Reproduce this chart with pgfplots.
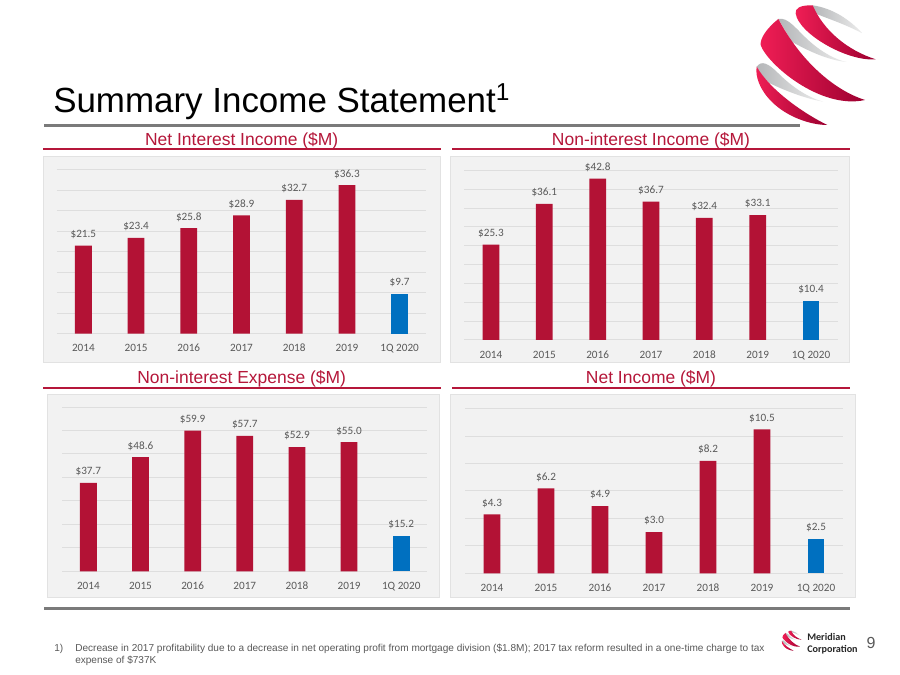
\documentclass[border=0pt]{standalone}
\usepackage{fontspec}
\setmainfont{Liberation Sans}
\newfontfamily\calib{Carlito}
\usepackage{pgfplots}
\pgfplotsset{compat=1.18}
\definecolor{barred}{HTML}{B31235}
\definecolor{barblue}{HTML}{0070C0}
\definecolor{headred}{HTML}{B5173A}
\definecolor{txt}{HTML}{595959}
\definecolor{gridc}{HTML}{DEDEDE}
\definecolor{panelbg}{HTML}{F2F2F2}
\definecolor{panelbd}{HTML}{E2E2E2}
\definecolor{rulegray}{HTML}{7A7A7A}
\definecolor{logoa}{HTML}{F01E55}
\definecolor{logob}{HTML}{9C0030}
\definecolor{logoc}{HTML}{B4B6B8}
\definecolor{logod}{HTML}{EDEDED}
\newcommand{\fs}[1]{\fontsize{#1}{#1}\selectfont}
\newcommand{\logo}{%
 \shade[left color=logoc,right color=logod] (338,16) .. controls (400,25) and (450,60) .. (487,100) .. controls (430,70) and (380,55) .. (345,40) -- cycle;
 \shade[left color=logoa,right color=logob] (338,16) .. controls (300,15) and (285,25) .. (287,40) .. controls (295,100) and (440,185) .. (527,178) .. controls (440,150) and (370,90) .. (338,16) -- cycle;
 \shade[left color=logoc,right color=logod] (235,57) .. controls (265,50) and (290,90) .. (330,125) .. controls (370,160) and (410,180) .. (440,186) .. controls (380,180) and (320,150) .. (275,125) -- cycle;
 \shade[left color=logoa,right color=logob] (235,57) .. controls (200,85) and (180,115) .. (182,135) .. controls (200,190) and (360,330) .. (495,300) .. controls (400,270) and (300,180) .. (235,57) -- cycle;
 \shade[left color=logoc,right color=logod] (170,200) .. controls (185,180) and (205,190) .. (235,220) .. controls (280,265) and (330,295) .. (370,305) .. controls (310,295) and (240,265) .. (210,250) .. controls (190,235) and (175,215) .. (170,200) -- cycle;
 \shade[left color=logoa,right color=logob] (170,200) .. controls (165,230) and (180,270) .. (215,305) .. controls (260,350) and (330,375) .. (382,375) .. controls (310,340) and (210,270) .. (170,200) -- cycle;
}
\pgfplotsset{panel/.style={
  scale only axis, anchor=south west, clip=false,
  axis line style={draw=none},
  ymin=0, xmin=-0.5, xmax=6.5,
  xtick={0,1,2,3,4,5,6},
  xticklabels={2014,2015,2016,2017,2018,2019,1Q 2020},
  yticklabels={},
  major tick length=0pt,
  ymajorgrids=true,
  grid style={draw=gridc,line width=0.75pt},
  xticklabel style={font=\calib\fs{8.4}, text=txt, anchor=center, text height=5.4pt, text depth=0pt, yshift=-11pt},
  ybar, bar shift=0pt, bar width=12.6pt,
  point meta=explicit symbolic,
  nodes near coords,
  nodes near coords style={font=\calib\fs{8.4}, text=txt, anchor=center, yshift=8.4pt},
}, red/.style={draw=none,fill=barred}, blue/.style={draw=none,fill=barblue}}
\begin{document}
\begin{tikzpicture}
\begin{scope}[x=.75pt,y=-.75pt,yshift=506.25pt]
\path[use as bounding box,fill=white] (0,0) rectangle (900,675);
\begin{scope}[shift={(700,0)},scale=1/3]\logo\end{scope}
\begin{scope}[shift={(772.3,629.8)},scale=0.0557]\logo\end{scope}
\node[anchor=base west,inner sep=0pt,text=black] at (53,112.5) {\fs{26.2}Summary Income Statement\textsuperscript{1}};
\fill[rulegray] (44,124.5) rectangle (799.5,127.5);
\fill[rulegray] (44,606.8) rectangle (850,609.8);
\fill[headred] (42.7,148) rectangle (440.7,150);
\fill[headred] (452.3,148) rectangle (850,150);
\fill[headred] (42.7,386.7) rectangle (440.7,388.7);
\fill[headred] (452.3,386.7) rectangle (850,388.7);
\node[anchor=base,inner sep=0pt,text=headred] at (241.7,146) {\fs{13.1}Net Interest Income (\$M)};
\node[anchor=base,inner sep=0pt,text=headred] at (651,146) {\fs{13.1}Non-interest Income (\$M)};
\node[anchor=base,inner sep=0pt,text=headred] at (241.7,384) {\fs{13.1}Non-interest Expense (\$M)};
\node[anchor=base,inner sep=0pt,text=headred] at (651,384) {\fs{13.1}Net Income (\$M)};
\filldraw[fill=panelbg,draw=panelbd,line width=.75pt] (43,156.5) rectangle (440,363);
\filldraw[fill=panelbg,draw=panelbd,line width=.75pt] (450.5,156.5) rectangle (849.3,363);
\filldraw[fill=panelbg,draw=panelbd,line width=.75pt] (47.5,394.5) rectangle (439.7,597.3);
\filldraw[fill=panelbg,draw=panelbd,line width=.75pt] (450.5,394.5) rectangle (855.7,597.3);
\node[anchor=base west,inner sep=0pt,text=txt] at (54,651.5) {\fs{7.55}1)};
\node[anchor=base west,inner sep=0pt,text=txt] at (75,651.5) {\fs{7.55}Decrease in 2017 profitability due to a decrease in net operating profit from mortgage division (\$1.8M); 2017 tax reform resulted in a one-time charge to tax};
\node[anchor=base west,inner sep=0pt,text=txt] at (75,663.5) {\fs{7.55}expense of \$737K};
\node[anchor=base west,inner sep=0pt,text=black!85] at (807,640) {\calib\bfseries\fs{7.6}Meridian};
\node[anchor=base west,inner sep=0pt,text=black!85] at (807,652.5) {\calib\bfseries\fs{7.6}Corporation};
\node[anchor=base,inner sep=0pt,text=txt] at (871,648.5) {\fs{12}9};
\end{scope}

\begin{axis}[panel, at={(42.75pt,255.975pt)}, width=276.75pt, height=122.775pt,
  ymax=40, ytick={0,5,10,15,20,25,30,35,40}]
\addplot[red] coordinates {(0,21.5)[\$21.5] (1,23.4)[\$23.4] (2,25.8)[\$25.8] (3,28.9)[\$28.9] (4,32.7)[\$32.7] (5,36.3)[\$36.3]};
\addplot[blue] coordinates {(6,9.7)[\$9.7]};
\end{axis}

\begin{axis}[panel, at={(348.225pt,251.25pt)}, width=280.05pt, height=127.275pt,
  ymax=45, ytick={0,5,10,15,20,25,30,35,40,45}]
\addplot[red] coordinates {(0,25.3)[\$25.3] (1,36.1)[\$36.1] (2,42.8)[\$42.8] (3,36.7)[\$36.7] (4,32.4)[\$32.4] (5,33.1)[\$33.1]};
\addplot[blue] coordinates {(6,10.4)[\$10.4]};
\end{axis}

\begin{axis}[panel, at={(46.725pt,77.775pt)}, width=273.75pt, height=123.225pt,
  ymax=70, ytick={0,10,20,30,40,50,60,70}]
\addplot[red] coordinates {(0,37.7)[\$37.7] (1,48.6)[\$48.6] (2,59.9)[\$59.9] (3,57.7)[\$57.7] (4,52.9)[\$52.9] (5,55.0)[\$55.0]};
\addplot[blue] coordinates {(6,15.2)[\$15.2]};
\end{axis}

\begin{axis}[panel, at={(348.75pt,76.275pt)}, width=283.5pt, height=123.45pt,
  ymax=12, ytick={0,2,4,6,8,10,12}]
\addplot[red] coordinates {(0,4.3)[\$4.3] (1,6.2)[\$6.2] (2,4.9)[\$4.9] (3,3.0)[\$3.0] (4,8.2)[\$8.2] (5,10.5)[\$10.5]};
\addplot[blue] coordinates {(6,2.5)[\$2.5]};
\end{axis}
\end{tikzpicture}
\end{document}
